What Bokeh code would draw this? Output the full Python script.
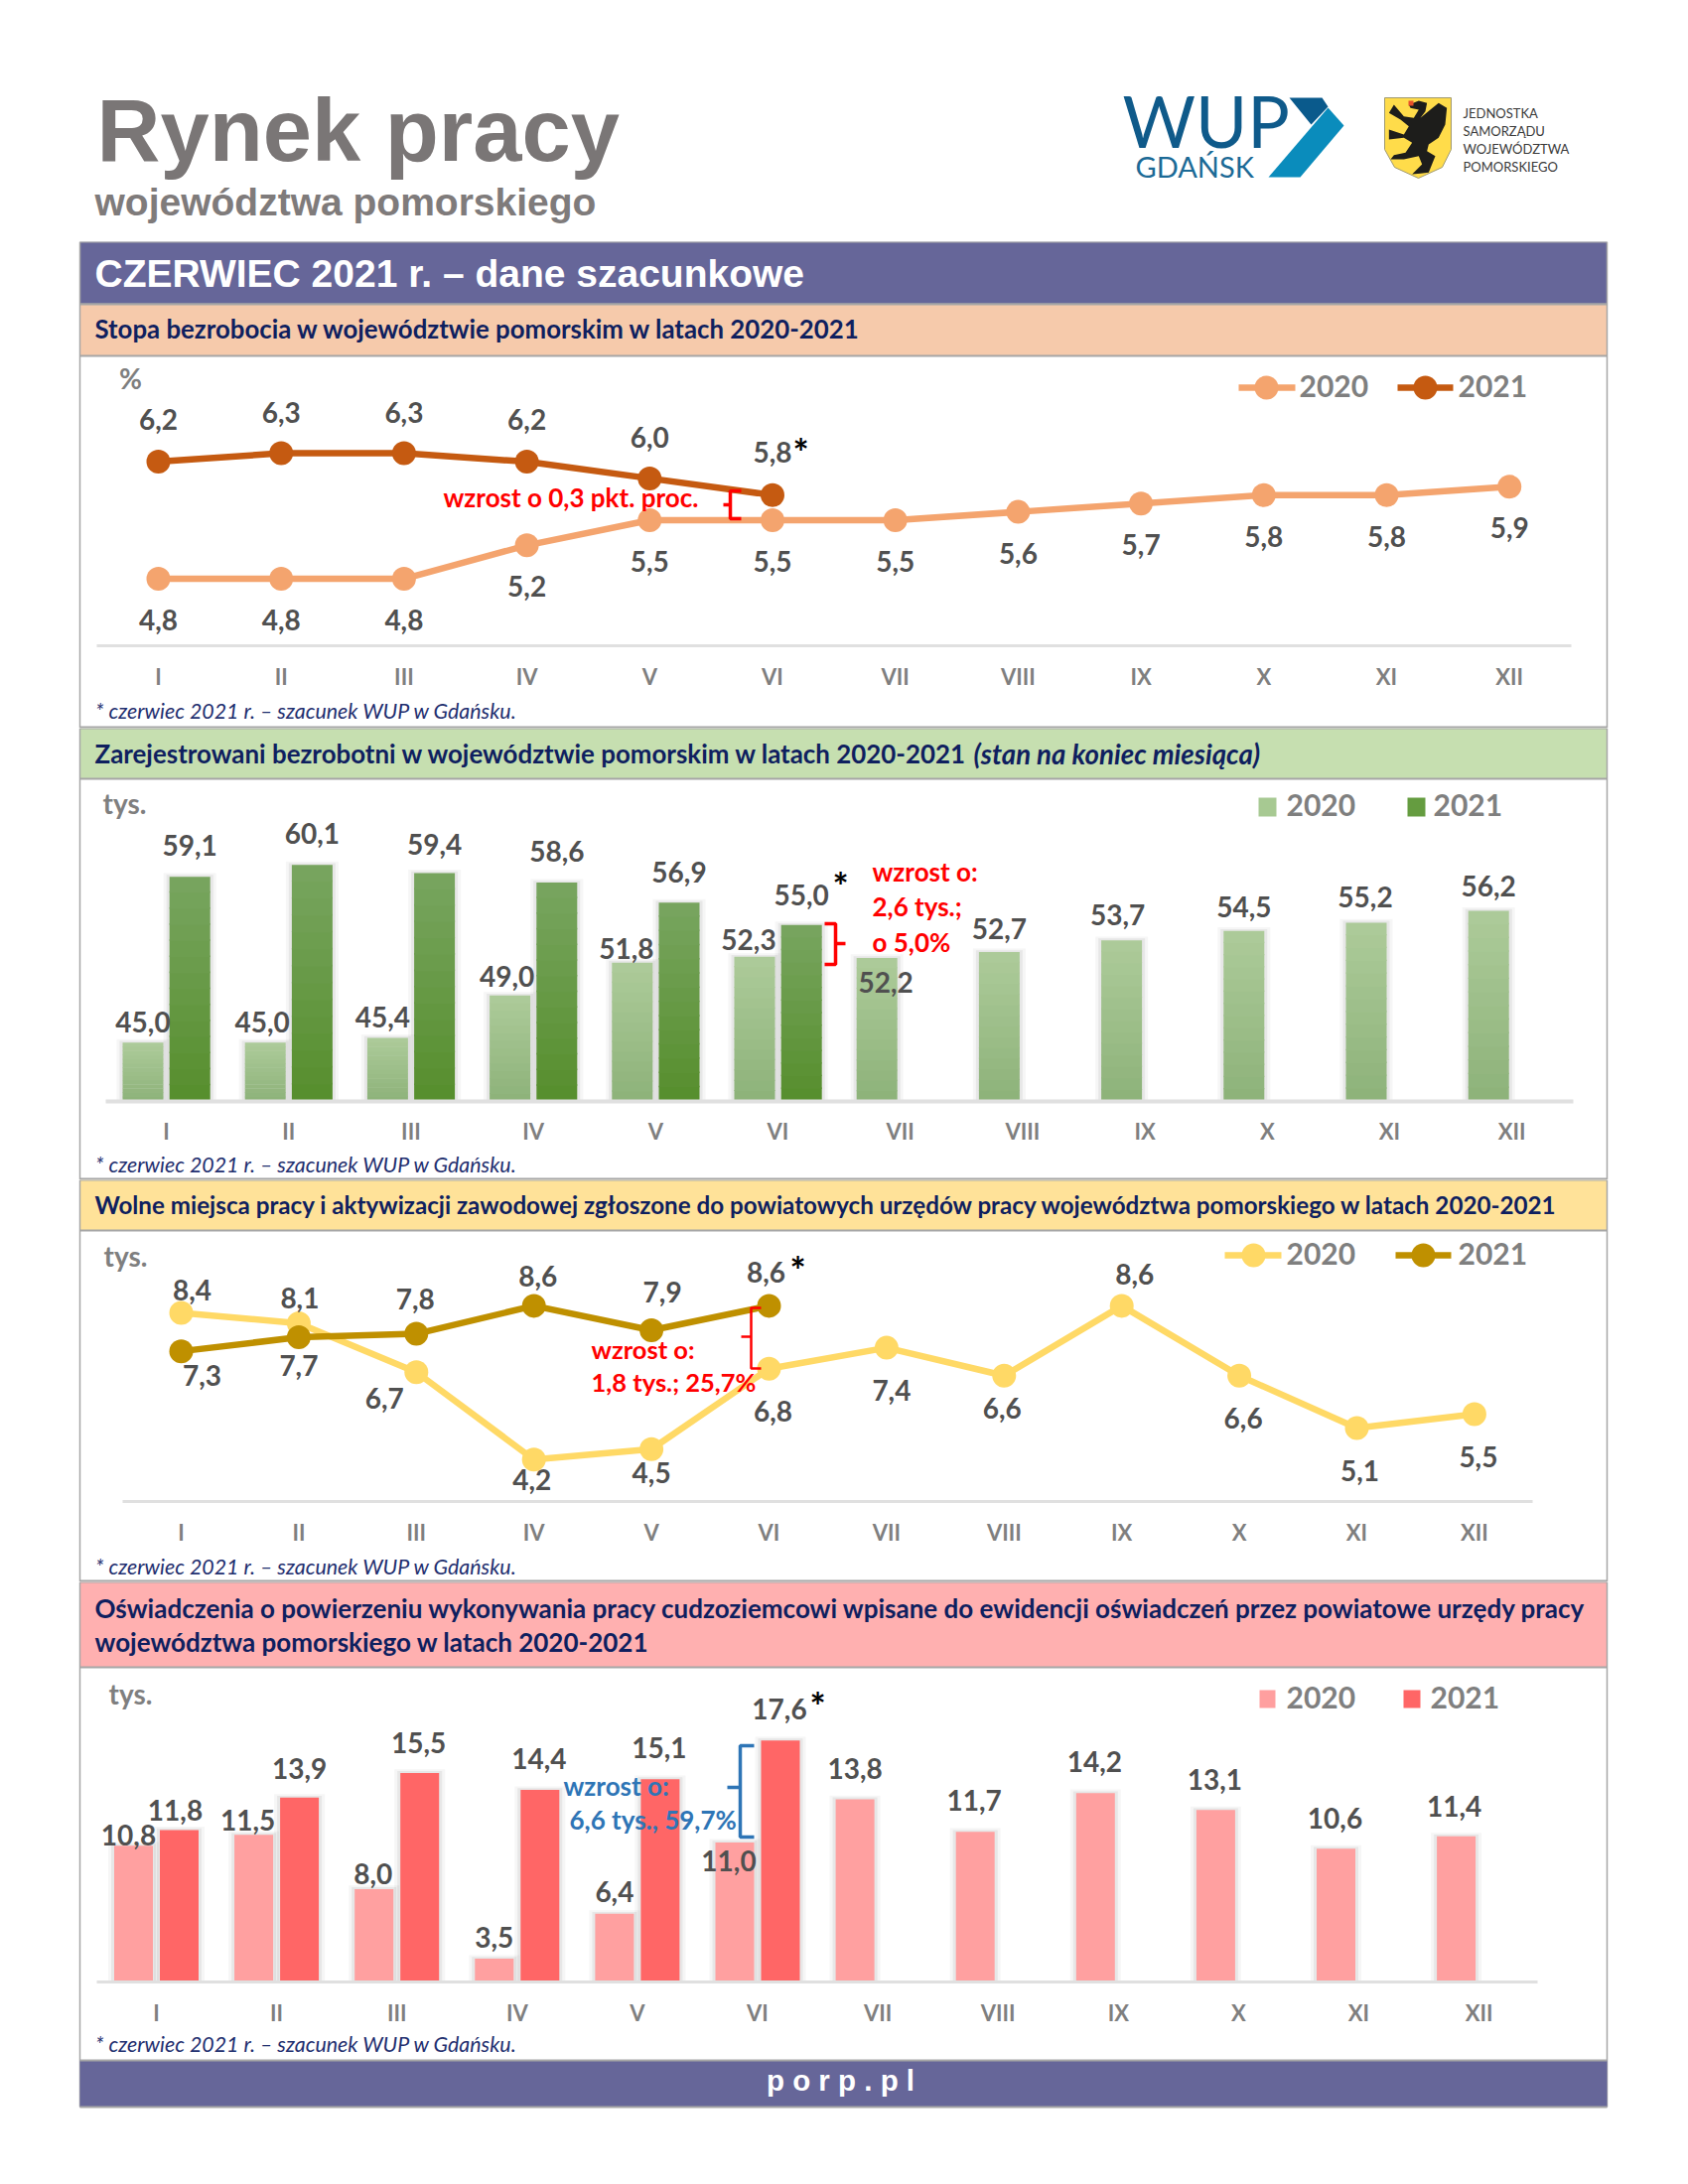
from bokeh.plotting import figure
from bokeh.layouts import column
from bokeh.models import Range1d, LinearAxis, FixedTicker
from bokeh.core.properties import value
from bokeh.embed import file_html
from bokeh.resources import INLINE

# ------- data -------
months = ["I","II","III","IV","V","VI","VII","VIII","IX","X","XI","XII"]
rate_2020 = [4.8,4.8,4.8,5.2,5.5,5.5,5.5,5.6,5.7,5.8,5.8,5.9]
rate_2021 = [6.2,6.3,6.3,6.2,6.0,5.8]
unemp_2020 = [45.0,45.0,45.4,49.0,51.8,52.3,52.2,52.7,53.7,54.5,55.2,56.2]
unemp_2021 = [59.1,60.1,59.4,58.6,56.9,55.0]
offers_2020 = [8.4,8.1,6.7,4.2,4.5,6.8,7.4,6.6,8.6,6.6,5.1,5.5]
offers_2021 = [7.3,7.7,7.8,8.6,7.9,8.6]
decl_2020 = [10.8,11.5,8.0,3.5,6.4,11.0,13.8,11.7,14.2,13.1,10.6,11.4]
decl_2021 = [11.8,13.9,15.5,14.4,15.1,17.6]
years = ["2020","2021"]

# ------- label offsets (px) relative to each mark -------
rate20_off = [(0,43)]*12
rate21_off = [(0,-41),(0,-40),(0,-40),(0,-41),(0,-40),(0,-42)]
unemp20_off = [(0,-19),(-3,-19),(-5,-20),(-3,-18),(-6,-13),(-6,-16),(9,26),(0,-22),(-4,-24),(0,-23),(-1,-24),(0,-24)]
unemp21_off = [(0,-30),(0,-30),(0,-28),(0,-30),(0,-29),(0,-29)]
offers20_off = [(11,-21),(1,-24),(-32,28),(-2,22),(0,25),(4,44),(5,44),(-2,34),(13,-30),(4,44),(3,44),(4,44)]
offers21_off = [(21,26),(0,30),(-1,-34),(4,-28),(11,-37),(-3,-32)]
decl20_off = [(-5,-9),(-6,-13),(-1,-14),(0,-20),(0,-21),(-6,20),(0,-29),(-1,-30),(-1,-30),(-1,-29),(-1,-29),(-2,-29)]
decl21_off = [(-4,-19),(0,-28),(-1,-29),(-1,-30),(-1,-30),(-1,-30)]

FW = 1684
NAVY = "#0f1f5f"
GREY = "#7f7f7f"
LAB = "#505050"
EDGE = "#a6a6a6"
NOTE = "* czerwiec 2021 r. – szacunek WUP w Gdańsku."


def fmt(v):
    return f"{v:.1f}".replace(".", ",")


class Sec:
    """A page slice whose data scale is tied to page pixels."""
    def __init__(self, top, bottom, cat0=0, step=1.0, base_px=None, base_val=0, ppu=1.0):
        self.cat0, self.step, self.base_px, self.base_val, self.ppu = cat0, step, base_px if base_px is not None else bottom, base_val, ppu
        self.p = figure(width=FW, height=bottom - top, output_backend="svg", toolbar_location=None,
                        x_axis_type=None, y_axis_type=None, min_border=0, tools="",
                        x_range=Range1d(self.X(0), self.X(FW)),
                        y_range=Range1d(self.Y(bottom), self.Y(top)))
        self.p.grid.visible = False
        self.p.outline_line_color = None
        self.p.background_fill_color = "white"
        self.p.border_fill_color = "white"

    def X(self, px):
        return (px - self.cat0) / self.step

    def Y(self, py):
        return self.base_val + (self.base_px - py) / self.ppu

    def rect(self, x0, y0, x1, y1, color, line=None, lw=1, alpha=1.0):
        self.p.quad(left=[self.X(x0)], right=[self.X(x1)], top=[self.Y(y0)], bottom=[self.Y(y1)],
                    fill_color=color, fill_alpha=alpha, line_color=line, line_width=lw)

    def seg(self, xs, ys, color, lw=2, **kw):
        self.p.line([self.X(a) for a in xs], [self.Y(b) for b in ys], line_color=color, line_width=lw, **kw)

    def poly(self, pts, color):
        self.p.patch([self.X(a) for a, _ in pts], [self.Y(b) for _, b in pts], fill_color=color, line_color=None)

    def text(self, x, y, s, size, color, font="Lato", style="bold", align="left", baseline="middle"):
        if font == "Lato":
            y -= 1.5
        self.p.text(x=[self.X(x)], y=[self.Y(y)], text=[s], text_font=value(font),
                    text_font_style=style, text_font_size=f"{size}px", text_color=color,
                    text_align=align, text_baseline=baseline)

    def band(self, y0, y1, color):
        self.rect(80, y0, 1618, y1, color)
        self.seg([80, 1618], [y0, y0], EDGE, 2)
        self.seg([80, 1618], [y1, y1], EDGE, 2)

    def sides(self, y0, y1):
        self.seg([80, 80], [y0, y1], EDGE, 1.5)
        self.seg([1618, 1618], [y0, y1], EDGE, 1.5)

    def axis(self, x0, x1, lw=3, standoff=11):
        ax = LinearAxis(fixed_location=self.base_val, ticker=FixedTicker(ticks=list(range(12))),
                        major_label_overrides={i: m for i, m in enumerate(months)},
                        bounds=(self.X(x0), self.X(x1)),
                        major_tick_line_color=None, minor_tick_line_color=None,
                        axis_line_color="#e0e0e0", axis_line_width=lw,
                        major_label_standoff=standoff,
                        major_label_text_font="Lato", major_label_text_font_style="bold",
                        major_label_text_font_size="22px", major_label_text_color=GREY)
        self.p.add_layout(ax, "below")

    def labels(self, xs, vals, off, size=28):
        self.p.text(x=xs, y=vals, text=[fmt(v) for v in vals],
                    x_offset=[o[0] for o in off], y_offset=[o[1] - 1.5 for o in off],
                    text_font=value("Lato"), text_font_style="bold", text_font_size=f"{size}px",
                    text_color=LAB, text_align="center", text_baseline="middle")

    def series(self, vals, color):
        xs = list(range(len(vals)))
        self.p.line(xs, vals, line_color=color, line_width=6.5)
        self.p.scatter(xs, vals, size=24, fill_color=color, line_color=None)
        return xs

    def bars(self, vals, center, width, top_col, bot_col, n=14):
        x = [i + center / self.step for i in range(len(vals))]
        w = width / self.step
        # soft shadow
        for grow, a in ((6, 0.07), (3, 0.13)):
            g = grow / self.step
            self.p.quad(left=[c - w/2 - g for c in x], right=[c + w/2 + g for c in x],
                        top=[v + grow * 0.6 / self.ppu for v in vals], bottom=[self.base_val] * len(vals),
                        fill_color="#808080", fill_alpha=a, line_color=None)
        L, R, T, B, C = [], [], [], [], []
        for c, v in zip(x, vals):
            h = (v - self.base_val) / n
            for k in range(n):
                f = (k + 0.5) / n
                col = tuple(round(b + (t - b) * f) for t, b in zip(top_col, bot_col))
                L.append(c - w/2); R.append(c + w/2)
                B.append(self.base_val + k * h); T.append(self.base_val + (k + 1) * h + (0 if k == n-1 else h * 0.1))
                C.append("#%02x%02x%02x" % col)
        self.p.quad(left=L, right=R, top=T, bottom=B, fill_color=C, line_color=None)
        return x

    def brace(self, xv, xend, xtip, y0, y1, ym, color, lw=3.5):
        self.seg([xend, xv, xv, xtip, xv, xv, xend], [y0, y0, ym, ym, ym, y1, y1], color, lw)

    def star(self, x, y):
        self.text(x, y + 5.5, "*", 38, "#000000", align="center")

    def note(self, y):
        self.text(95.5, y - 1.5, NOTE, 21.4, "#1f2f6f", style="italic")


# ------- header -------
h = Sec(0, 243)
h.text(97, 131, "Rynek pracy", 88.5, "#7a7676", font="Liberation Sans")
h.text(95, 203, "województwa pomorskiego", 39, "#7f7b7b", font="Liberation Sans")
h.text(1130, 122.5, "WUP", 71, "#0f5a8a", style="normal")
h.text(1143, 168.5, "GDAŃSK", 29, "#1c6a96", style="normal")
h.poly([(1298,98),(1331,98),(1337,107),(1320,125)], "#0a5a8c")
h.poly([(1337,108),(1353,126),(1309,178),(1277,178)], "#0a8cbc")
shield = [(1394,98),(1461,98),(1461,150),(1452,168),(1428,179),(1404,168),(1394,150)]
h.poly(shield, "#ffdc4a")
h.seg([a for a,_ in shield]+[1394], [b for _,b in shield]+[98], "#a09a70", 1)
griffin = [(895,60),(925,48),(950,55),(945,80),(930,100),(960,75),(985,55),(1010,70),(1005,120),(985,160),(955,180),
           (950,200),(975,215),(955,265),(930,268),(905,270),(935,240),(925,215),(880,225),(840,225),(850,212),(885,205),
           (905,175),(880,160),(835,165),(835,135),(880,150),(895,125),(870,105),(835,85),(850,60),(880,95),(910,100),(925,75),(900,70)]
h.poly([(1120 + a/3, 85 + b/3) for a, b in griffin], "#1d1d1b")
h.rect(1418, 101, 1423, 106, "#e8502a")
for y, t in zip((115,133,151,169), ("JEDNOSTKA","SAMORZĄDU","WOJEWÓDZTWA","POMORSKIEGO")):
    h.text(1473, y, t, 13, "#3a3a3a", style="normal")

# ------- section 1: unemployment rate -------
s = Sec(243, 733, cat0=159, step=123.7, base_px=650, base_val=4.0, ppu=84.3)
s.band(243, 306, "#666699")
s.text(95, 275, "CZERWIEC 2021 r. – dane szacunkowe", 39, "#ffffff", font="Liberation Sans")
s.band(306, 358, "#f6caab")
s.text(95, 332, "Stopa bezrobocia w województwie pomorskim w latach 2020-2021", 25.8, NAVY)
s.sides(243, 733)
s.axis(97, 1582)
C20, C21 = "#f4a46e", "#c55a11"
x20 = s.series(rate_2020, C20)
x21 = s.series(rate_2021, C21)
s.labels(x20, rate_2020, rate20_off)
s.labels(x21, rate_2021, rate21_off)
s.star(806, 450)
s.text(131, 382, "%", 28, GREY, align="center")
s.seg([1247, 1304], [390, 390], C20, 6.5)
s.p.scatter([s.X(1275)], [s.Y(390)], size=24, fill_color=C20, line_color=None)
s.text(1308, 390, years[0], 30, GREY)
s.seg([1407, 1463], [390, 390], C21, 6.5)
s.p.scatter([s.X(1435)], [s.Y(390)], size=24, fill_color=C21, line_color=None)
s.text(1468, 390, years[1], 30, GREY)
s.text(446, 502, "wzrost o 0,3 pkt. proc.", 26, "#ff0000")
s.brace(735, 746, 728, 494, 522, 508, "#ff0000")
s.note(718)
s.seg([80, 1618], [732, 732], EDGE, 2)

# ------- section 2: registered unemployed -------
s2 = Sec(733, 1188, cat0=167, step=123.2, base_px=1109, base_val=40.0, ppu=11.85)
s2.band(733, 784, "#c6dfb0")
s2.text(95, 760, "Zarejestrowani bezrobotni w województwie pomorskim w latach 2020-2021 ", 25.9, NAVY)
s2.text(980, 760, "(stan na koniec miesiąca)", 27.6, NAVY, style="bold italic")
s2.sides(733, 1188)
xa = s2.bars(unemp_2020, -23.5, 41, (0xad,0xcb,0x9a), (0x8d,0xb2,0x79))
xb = s2.bars(unemp_2021, 23.7, 41, (0x78,0xa5,0x60), (0x56,0x8e,0x2c))
s2.axis(106, 1584, lw=4, standoff=10)
s2.labels(xa, unemp_2020, unemp20_off)
s2.labels(xb, unemp_2021, unemp21_off)
s2.star(846, 887)
s2.text(125, 810, "tys.", 28, GREY, align="center")
s2.rect(1267, 803, 1285, 822, "#a7c992")
s2.text(1295, 812, years[0], 30, GREY)
s2.rect(1417, 803, 1435, 822, "#659c40")
s2.text(1443, 812, years[1], 30, GREY)
for y, t in zip((879, 914, 950), ("wzrost o:", "2,6 tys.;", "o 5,0%")):
    s2.text(878, y, t, 26, "#ff0000")
s2.brace(841, 830, 851, 930, 971, 950, "#ff0000")
s2.note(1175)
s2.seg([80, 1618], [1187, 1187], EDGE, 2)

# ------- section 3: job offers -------
s3 = Sec(1188, 1593, cat0=182, step=118.4, base_px=1512, base_val=3.0, ppu=35.2)
s3.band(1188, 1239, "#ffe299")
s3.text(95, 1214, "Wolne miejsca pracy i aktywizacji zawodowej zgłoszone do powiatowych urzędów pracy województwa pomorskiego w latach 2020-2021", 24.2, NAVY)
s3.sides(1188, 1593)
s3.axis(123, 1543)
C20, C21 = "#ffd966", "#bf9000"
x20 = s3.series(offers_2020, C20)
x21 = s3.series(offers_2021, C21)
s3.labels(x20, offers_2020, offers20_off)
s3.labels(x21, offers_2021, offers21_off)
s3.star(803, 1274)
s3.text(126, 1266, "tys.", 28, GREY, align="center")
s3.seg([1233, 1290], [1264, 1264], C20, 6.5)
s3.p.scatter([s3.X(1262)], [s3.Y(1264)], size=24, fill_color=C20, line_color=None)
s3.text(1295, 1264, years[0], 30, GREY)
s3.seg([1405, 1461], [1264, 1264], C21, 6.5)
s3.p.scatter([s3.X(1433)], [s3.Y(1264)], size=24, fill_color=C21, line_color=None)
s3.text(1468, 1264, years[1], 30, GREY)
s3.text(595, 1360, "wzrost o:", 25.5, "#ff0000")
s3.text(595, 1393, "1,8 tys.; 25,7%", 25.5, "#ff0000")
s3.brace(756, 766, 746, 1317, 1378, 1346, "#ff0000", 2.5)
s3.note(1580)
s3.seg([80, 1618], [1592, 1592], EDGE, 2)

# ------- section 4: declarations -------
s4 = Sec(1593, 2130, cat0=157, step=121.1, base_px=1996, base_val=2.0, ppu=15.6)
s4.band(1593, 1679, "#ffb0b0")
s4.text(95, 1621, "Oświadczenia o powierzeniu wykonywania pracy cudzoziemcowi wpisane do ewidencji oświadczeń przez powiatowe urzędy pracy", 26, NAVY)
s4.text(95, 1655, "województwa pomorskiego w latach 2020-2021", 26, NAVY)
s4.sides(1593, 2122)
xa = s4.bars(decl_2020, -23, 39, (0xff,0xa0,0xa0), (0xff,0x9f,0x9f), n=1)
xb = s4.bars(decl_2021, 23, 39, (0xff,0x66,0x66), (0xff,0x66,0x66), n=1)
s4.axis(97, 1548)
s4.labels(xa, decl_2020, decl20_off)
s4.labels(xb, decl_2021, decl21_off)
s4.star(823, 1713)
s4.text(131, 1707, "tys.", 28, GREY, align="center")
s4.rect(1268, 1702, 1284, 1720, "#ff9f9f")
s4.text(1295, 1711, years[0], 30, GREY)
s4.rect(1413, 1702, 1430, 1720, "#ff6666")
s4.text(1440, 1711, years[1], 30, GREY)
s4.text(567, 1800, "wzrost o:", 26, "#2e75b6")
s4.text(573, 1834, "6,6 tys., 59,7%", 26, "#2e75b6")
s4.brace(745, 759, 732, 1758, 1850, 1800, "#2e75b6")
s4.note(2061)
s4.band(2075, 2122, "#666699")
s4.text(846, 2095, "p o r p . p l", 29.5, "#ffffff", font="Liberation Sans", align="center")

page = column(h.p, s.p, s2.p, s3.p, s4.p, spacing=0)
open("out.html", "w").write(file_html(page, INLINE))
